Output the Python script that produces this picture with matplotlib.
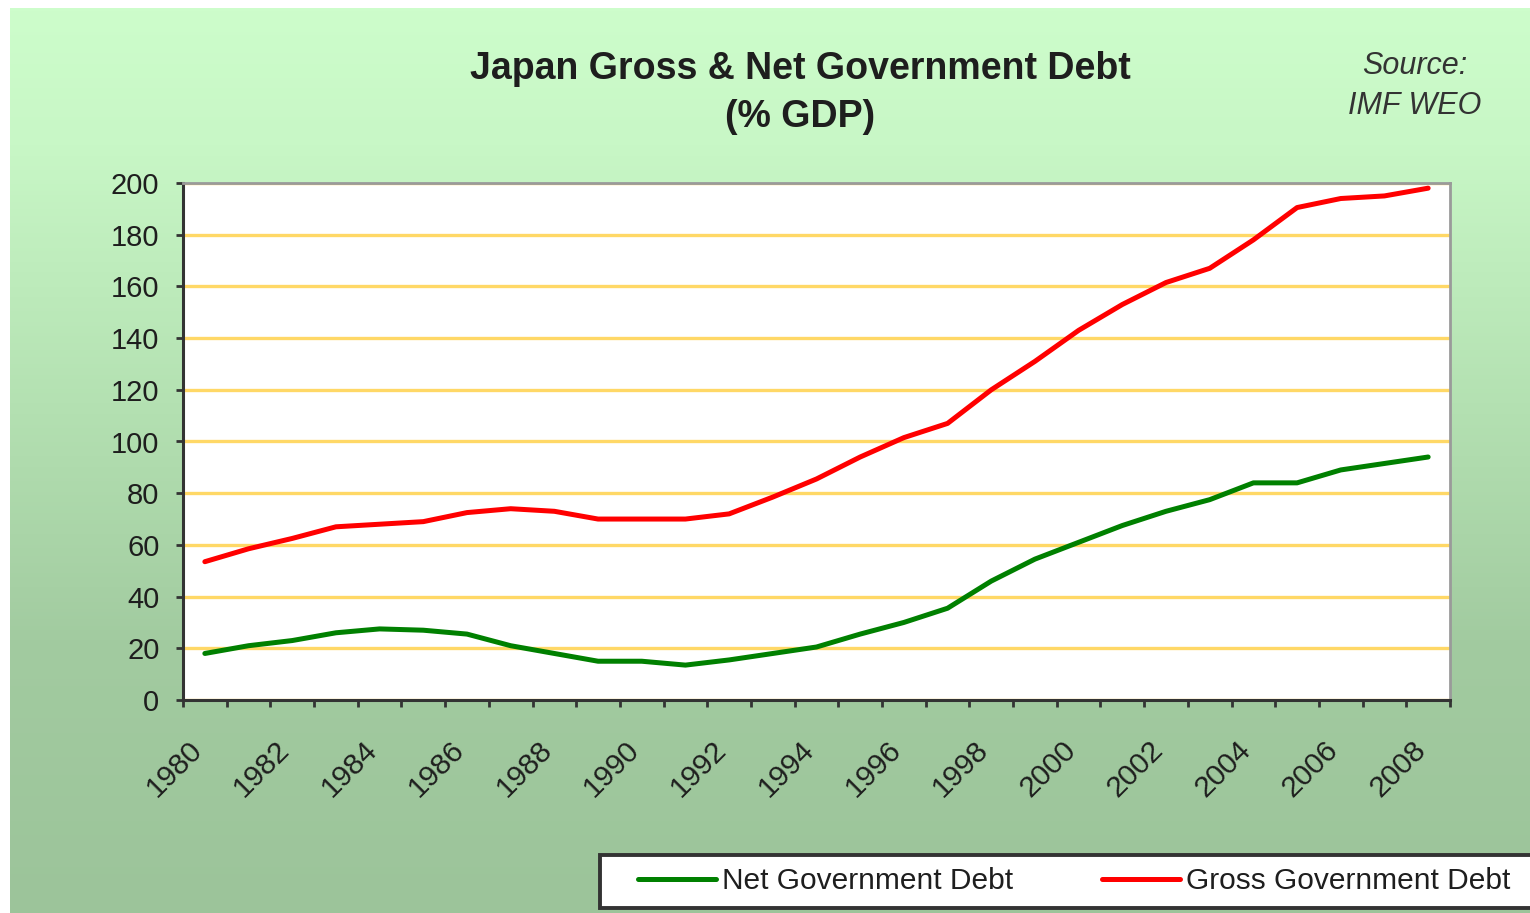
import matplotlib.pyplot as plt
import matplotlib.transforms as mtransforms
import numpy as np
from matplotlib.colors import LinearSegmentedColormap
from matplotlib.patches import Rectangle


YEARS = list(range(1980, 2009))
NET_DEBT = [18, 21, 23, 26, 27.5, 27, 25.5, 21, 18, 15, 15, 13.5, 15.5, 18, 20.5,
            25.5, 30, 35.5, 46, 54.5, 61, 67.5, 73, 77.5, 84, 84, 89, 91.5, 94]
GROSS_DEBT = [53.5, 58.5, 62.5, 67, 68, 69, 72.5, 74, 73, 70, 70, 70, 72, 78.5, 85.5,
              94, 101.5, 107, 120, 131, 143, 153, 161.5, 167, 178, 190.5, 194, 195, 198]
LABEL_YEARS = list(range(1980, 2009, 2))
Y_TICKS = list(range(0, 201, 20))

SERIES_NAMES = ["Net Government Debt", "Gross Government Debt"]
SERIES_COLORS = ["#008000", "#ff0000"]

TITLE = "Japan Gross & Net Government Debt\n(% GDP)"
SOURCE = "Source:\nIMF WEO"

W, H = 1530, 913
TEXT_COLOR = "#1e1e1e"


def fx(px):
    return px / W


def fy(py):
    return 1 - py / H


plt.rcParams["font.family"] = ["Liberation Sans", "DejaVu Sans"]

fig = plt.figure(figsize=(W / 100, H / 100), dpi=100, facecolor="white")

# green panel behind everything, light at the top and darker towards the bottom
bg = fig.add_axes([fx(10), 0, 1 - fx(10), fy(8)], zorder=0)
panel = LinearSegmentedColormap.from_list(
    "panel",
    [(0.0, "#cdfdcb"), (0.15, "#c8f7c6"), (0.45, "#b3e0b1"), (0.7, "#a2cba0"), (1.0, "#9cc49a")],
)
bg.imshow(np.linspace(0, 1, 256)[:, None], aspect="auto", cmap=panel,
          extent=[0, 1, 0, 1], origin="upper")
bg.set_axis_off()

ax = fig.add_axes([fx(183), fy(700), fx(1450) - fx(183), fy(183) - fy(700)], zorder=2)
ax.set_facecolor("white")

ax.plot(YEARS, NET_DEBT, color=SERIES_COLORS[0], lw=3.6, label=SERIES_NAMES[0],
        solid_capstyle="round", solid_joinstyle="round")
ax.plot(YEARS, GROSS_DEBT, color=SERIES_COLORS[1], lw=3.6, label=SERIES_NAMES[1],
        solid_capstyle="round", solid_joinstyle="round")

ax.set_ylim(0, 200)
ax.set_yticks(Y_TICKS)
ax.yaxis.grid(True, color="#ffd866", lw=2.4)
ax.set_axisbelow(True)

ax.set_xlim(YEARS[0] - 0.5, YEARS[-1] + 0.5)
ax.set_xticks(LABEL_YEARS)
ax.set_xticklabels([str(y) for y in LABEL_YEARS], rotation=45, ha="right",
                   va="center", rotation_mode="anchor")
ax.set_xticks(np.arange(YEARS[0] - 0.5, YEARS[-1] + 1.0, 1.0), minor=True)

ax.tick_params(axis="y", length=5, width=2, color="#333333", pad=12,
               labelsize=21, labelcolor=TEXT_COLOR)
ax.tick_params(axis="x", which="major", length=0, pad=33,
               labelsize=21.5, labelcolor=TEXT_COLOR)
ax.tick_params(axis="x", which="minor", length=5, width=2, color="#333333")

shift = mtransforms.ScaledTranslation(-7 / 100, 0, fig.dpi_scale_trans)
for lbl in ax.get_xticklabels():
    lbl.set_transform(lbl.get_transform() + shift)

for side in ("left", "bottom"):
    ax.spines[side].set_color("#333333")
    ax.spines[side].set_linewidth(2.2)
for side in ("top", "right"):
    ax.spines[side].set_color("#9a9a9a")
    ax.spines[side].set_linewidth(2.0)

fig.text(fx(800), fy(93), TITLE, ha="center", va="center", fontsize=27,
         fontweight="bold", color=TEXT_COLOR, linespacing=1.45)
fig.text(fx(1415), fy(86), SOURCE, ha="center", va="center", fontsize=22,
         fontstyle="italic", color="#333333", linespacing=1.45)

# legend box runs off the right edge
fig.add_artist(Rectangle((fx(600), fy(908)), 1 - fx(600) + 0.02, fy(855) - fy(908),
                         transform=fig.transFigure, facecolor="white",
                         edgecolor="#333333", lw=2.8, clip_on=False, zorder=3))
handles, labels = ax.get_legend_handles_labels()
leg = fig.legend(handles, labels, loc="center left", bbox_to_anchor=(fx(638), fy(881)),
                 frameon=False, ncol=2, handlelength=2.6, handletextpad=0.2,
                 columnspacing=3.0, fontsize=21.5, borderpad=0, borderaxespad=0)
leg.set_zorder(4)
for t in leg.get_texts():
    t.set_color(TEXT_COLOR)

fig.savefig("out.png", dpi=100)
